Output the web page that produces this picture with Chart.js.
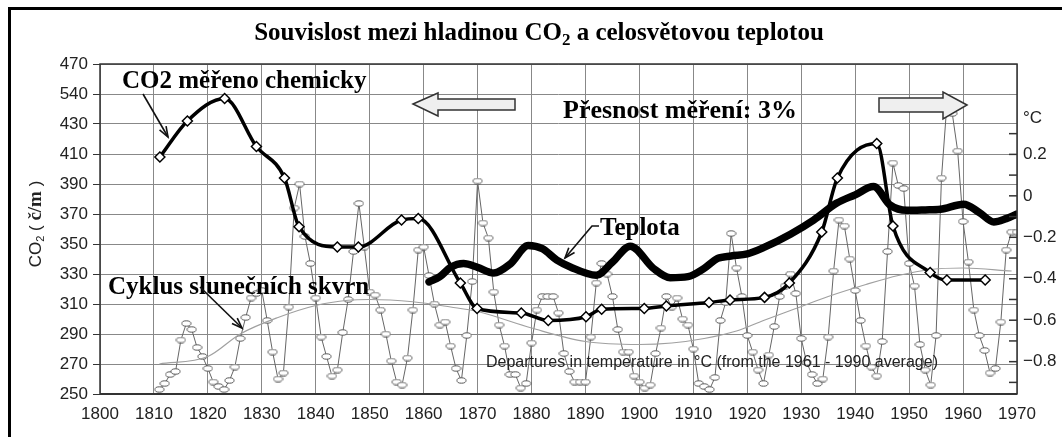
<!DOCTYPE html>
<html>
<head>
<meta charset="utf-8">
<script src="https://cdn.jsdelivr.net/npm/chart.js@4.4.0/dist/chart.umd.min.js"></script>
<style>
  html, body { margin: 0; padding: 0; background: #fff; }
  #wrap { position: relative; width: 1062px; height: 437px; }
</style>
</head>
<body>
<div id="wrap"><canvas id="myChart"></canvas></div>
<script>
// ---- data ----
const yearLabels = ['1800','1810','1820','1830','1840','1850','1860','1870','1880','1890',
                    '1900','1910','1920','1930','1940','1950','1960','1970'];
const co2TickLabels = ['250','270','290','310','330','350','370','390','410','430','540','470'];
const tempTickValues = [-0.9, -0.8, -0.7, -0.6, -0.5, -0.4, -0.3, -0.2, -0.1, 0, 0.1, 0.2, 0.3];
const tempTickLabels = ['', '\u22120.8', '', '\u22120.6', '', '\u22120.4', '', '\u22120.2', '', '0', '', '0.2', ''];

// CO2 measured chemically (left axis units)
const co2Years  = [1811.1, 1816.2, 1823.1, 1829.0, 1834.2, 1836.9, 1844.0, 1847.9, 1855.9, 1859.0,
                   1866.8, 1869.9, 1878.1, 1883.1, 1890.1, 1893.0, 1900.9, 1905.0, 1912.9, 1916.8,
                   1923.2, 1927.8, 1933.8, 1936.7, 1944.0, 1947.0, 1953.9, 1957.0, 1964.1];
const co2Values = [408, 432, 447, 415, 394, 361.5, 348, 348, 366, 367,
                   324, 307, 304, 299, 301.5, 306.5, 307, 308.7, 311, 312.7,
                   314.4, 324, 358, 394, 417, 362, 331, 326, 326];

// temperature departure (right axis, deg C)
const tempYears  = [1861, 1863, 1865, 1867.4, 1870, 1873, 1876, 1879.4, 1882, 1884.7,
                    1887.2, 1892, 1895, 1898.3, 1902.6, 1905.7, 1909, 1912, 1914.5, 1917,
                    1920, 1923, 1928, 1932.3, 1936.6, 1940, 1943.4, 1946.5, 1949.6, 1953,
                    1955.8, 1960.1, 1963, 1965.7, 1968, 1970];
const tempValues = [-0.415, -0.39, -0.345, -0.327, -0.345, -0.372, -0.33, -0.24, -0.255, -0.31,
                    -0.343, -0.383, -0.32, -0.243, -0.35, -0.395, -0.39, -0.35, -0.302, -0.29,
                    -0.28, -0.25, -0.185, -0.117, -0.035, 0.005, 0.045, -0.045, -0.07, -0.068,
                    -0.065, -0.04, -0.08, -0.126, -0.11, -0.088];

// sunspot cycle (yearly, left axis units)
const sunYears = [1811,1812,1813,1814,1815,1816,1817,1818,1819,1820,
                  1821,1822,1823,1824,1825,1826,1827,1828,1829,1830,
                  1831,1832,1833,1834,1835,1836,1837,1838,1839,1840,
                  1841,1842,1843,1844,1845,1846,1847,1848,1849,1850,
                  1851,1852,1853,1854,1855,1856,1857,1858,1859,1860,
                  1861,1862,1863,1864,1865,1866,1867,1868,1869,1870,
                  1871,1872,1873,1874,1875,1876,1877,1878,1879,1880,
                  1881,1882,1883,1884,1885,1886,1887,1888,1889,1890,
                  1891,1892,1893,1894,1895,1896,1897,1898,1899,1900,
                  1901,1902,1903,1904,1905,1906,1907,1908,1909,1910,
                  1911,1912,1913,1914,1915,1916,1917,1918,1919,1920,
                  1921,1922,1923,1924,1925,1926,1927,1928,1929,1930,
                  1931,1932,1933,1934,1935,1936,1937,1938,1939,1940,
                  1941,1942,1943,1944,1945,1946,1947,1948,1949,1950,
                  1951,1952,1953,1954,1955,1956,1957,1958,1959,1960,
                  1961,1962,1963,1964,1965,1966,1967,1968,1969,1970];
const sunValues = [253,257,263,265,286,297,293,281,275,267,
                   258,255,253,259,268,287,301,314,317,319,
                   299,278,260,264,308,374,390,355,337,314,
                   288,275,262,266,291,313,345,377,348,318,
                   316,306,290,272,258,256,274,306,346,348,
                   329,310,296,298,282,267,259,289,325,392,
                   364,354,318,296,282,263,263,254,257,284,
                   306,315,315,315,304,277,265,258,258,258,
                   288,324,337,330,315,293,278,278,262,258,
                   254,256,277,294,315,308,314,300,296,280,
                   257,255,253,261,299,311,357,334,315,289,
                   278,266,257,276,295,315,322,330,317,287,
                   271,263,257,260,288,332,366,362,340,319,
                   299,282,268,262,285,345,404,389,387,337,
                   322,283,266,256,289,394,443,437,412,365,
                   338,306,289,279,264,267,298,346,358,358];

// long term trend of the cycle (thin grey curve)
const trendYears  = [1811, 1820, 1826, 1833, 1840, 1846, 1850, 1858, 1865, 1870, 1880, 1890,
                     1900, 1906, 1912, 1918, 1923, 1929, 1935, 1942, 1948, 1954, 1960, 1969];
const trendValues = [270, 275, 290, 301, 309, 312.5, 313, 311.5, 308, 305, 294, 285,
                     283, 284, 287, 292, 299, 307, 315, 323, 329, 333, 334, 332];

function pts(xs, ys) { return xs.map((x, i) => ({ x: x, y: ys[i] })); }

const serif = "'Liberation Serif', 'Times New Roman', serif";
const sans = "'Liberation Sans', Arial, sans-serif";

// little ellipse marker for the sunspot series
const ell = document.createElement('canvas');
ell.width = 11; ell.height = 7;
(function () {
  const c = ell.getContext('2d');
  c.fillStyle = '#fff';
  c.strokeStyle = '#555';
  c.lineWidth = 1;
  c.beginPath();
  c.ellipse(5.5, 3.5, 4.5, 2.7, 0, 0, Math.PI * 2);
  c.fill(); c.stroke();
})();

function rich(ctx, parts, x, y, align) {
  let w = 0;
  parts.forEach(p => { ctx.font = p.font; w += ctx.measureText(p.t).width; });
  let cx = align === 'center' ? x - w / 2 : x;
  parts.forEach(p => {
    ctx.font = p.font;
    ctx.fillText(p.t, cx, y + (p.dy || 0));
    cx += ctx.measureText(p.t).width;
  });
}

function arrow(ctx, path, head) {
  ctx.beginPath();
  ctx.moveTo(path[0][0], path[0][1]);
  for (let i = 1; i < path.length; i++) ctx.lineTo(path[i][0], path[i][1]);
  ctx.stroke();
  const a = path[path.length - 2], b = path[path.length - 1];
  const ang = Math.atan2(b[1] - a[1], b[0] - a[0]);
  ctx.beginPath();
  ctx.moveTo(b[0] - head * Math.cos(ang - 0.35), b[1] - head * Math.sin(ang - 0.35));
  ctx.lineTo(b[0], b[1]);
  ctx.lineTo(b[0] - head * Math.cos(ang + 0.35), b[1] - head * Math.sin(ang + 0.35));
  ctx.stroke();
}

function hollowArrow(ctx, poly) {
  ctx.beginPath();
  ctx.moveTo(poly[0][0], poly[0][1]);
  for (let i = 1; i < poly.length; i++) ctx.lineTo(poly[i][0], poly[i][1]);
  ctx.closePath();
  ctx.fillStyle = '#efefef';
  ctx.fill();
  ctx.strokeStyle = '#333';
  ctx.lineWidth = 1.5;
  ctx.stroke();
}

const decor = {
  id: 'decor',
  beforeDraw(chart) {
    const ctx = chart.ctx;
    ctx.save();
    ctx.fillStyle = '#fff';
    ctx.fillRect(0, 0, chart.width, chart.height);
    ctx.restore();
  },
  afterDatasetsDraw(chart) {
    const ctx = chart.ctx;
    const ca = chart.chartArea;
    const yT = chart.scales.yT;
    ctx.save();

    // plot frame
    ctx.strokeStyle = '#333';
    ctx.lineWidth = 1.5;
    ctx.strokeRect(ca.left, ca.top, ca.right - ca.left, ca.bottom - ca.top);
    ctx.lineWidth = 2;
    ctx.beginPath(); ctx.moveTo(ca.left, ca.bottom); ctx.lineTo(ca.right, ca.bottom); ctx.stroke();

    // inner ticks of the temperature axis
    ctx.lineWidth = 1.5;
    tempTickValues.forEach(v => {
      const y = yT.getPixelForValue(v);
      ctx.beginPath(); ctx.moveTo(ca.right - 8, y); ctx.lineTo(ca.right, y); ctx.stroke();
    });

    // outer frame of the picture
    ctx.fillStyle = '#000';
    ctx.fillRect(8, 7, chart.width - 8, 3);
    ctx.fillRect(8, 7, 3, chart.height - 7);

    // title
    ctx.fillStyle = '#000';
    ctx.textBaseline = 'alphabetic';
    rich(ctx, [
      { t: 'Souvislost mezi hladinou CO', font: 'bold 25px ' + serif },
      { t: '2', font: 'bold 17px ' + serif, dy: 5 },
      { t: ' a celosvětovou teplotou', font: 'bold 25px ' + serif }
    ], 539, 40, 'center');

    // y axis title
    ctx.save();
    ctx.translate(36, 224);
    ctx.rotate(-Math.PI / 2);
    ctx.textBaseline = 'middle';
    ctx.fillStyle = '#222';
    rich(ctx, [
      { t: 'CO', font: '17px ' + sans },
      { t: '2', font: '11px ' + sans, dy: 5 },
      { t: ' ( ', font: '17px ' + sans },
      { t: 'č/m', font: 'bold 19px ' + serif },
      { t: ' )', font: '17px ' + sans }
    ], 0, 0, 'center');
    ctx.restore();

    // labels in the plot
    ctx.fillStyle = '#000';
    ctx.font = 'bold 25px ' + serif;
    ctx.fillText('CO2 měřeno chemicky', 122, 88);
    ctx.fillText('Cyklus slunečních skvrn', 108, 294);
    ctx.fillText('Teplota', 600, 235);
    ctx.font = 'bold 26px ' + serif;
    ctx.fillText('Přesnost měření: 3%', 563, 118);

    ctx.strokeStyle = '#111';
    ctx.lineWidth = 1.6;
    arrow(ctx, [[143, 94], [168, 137]], 11);
    arrow(ctx, [[200, 287], [242, 328]], 11);
    arrow(ctx, [[599, 226], [592, 226], [565, 258]], 11);

    hollowArrow(ctx, [[413, 104], [438, 93], [438, 99], [515, 99], [515, 110], [438, 110], [438, 116]]);
    hollowArrow(ctx, [[967, 105], [943, 92], [943, 98], [879, 98], [879, 112], [943, 112], [943, 119]]);

    ctx.font = '16px ' + sans;
    ctx.fillStyle = '#222';
    ctx.fillText('Departures in temperature in °C (from the 1961 - 1990 average)', 486, 367);

    ctx.font = '17px ' + sans;
    ctx.fillText('°C', 1023, 123);
    ctx.restore();
  }
};

let ctx = document.getElementById('myChart').getContext('2d');

let chart = new Chart(ctx, {
  type: 'line',
  data: {
    datasets: [{
      label: 'CO2 měřeno chemicky',
      data: pts(co2Years, co2Values),
      yAxisID: 'y',
      borderColor: '#000',
      borderWidth: 3.5,
      cubicInterpolationMode: 'monotone',
      pointStyle: 'rectRot',
      pointRadius: 5,
      pointBackgroundColor: '#fff',
      pointBorderColor: '#000',
      pointBorderWidth: 1.5
    }, {
      label: 'Teplota',
      data: pts(tempYears, tempValues),
      yAxisID: 'yT',
      borderColor: '#000',
      borderWidth: 7.5,
      borderCapStyle: 'round',
      cubicInterpolationMode: 'monotone',
      pointRadius: 0
    }, {
      label: 'trend',
      data: pts(trendYears, trendValues),
      yAxisID: 'y',
      borderColor: '#a0a0a0',
      borderWidth: 1.2,
      cubicInterpolationMode: 'monotone',
      pointRadius: 0
    }, {
      label: 'Cyklus slunečních skvrn',
      data: pts(sunYears, sunValues),
      yAxisID: 'y',
      borderColor: '#666',
      borderWidth: 1,
      tension: 0,
      pointStyle: ell,
      pointRadius: 4
    }]
  },
  options: {
    responsive: true,
    maintainAspectRatio: false,
    animation: false,
    events: [],
    layout: { padding: { top: 64, left: 0, right: 0, bottom: 0 } },
    plugins: { legend: { display: false }, tooltip: { enabled: false }, title: { display: false } },
    scales: {
      x: {
        type: 'linear',
        min: 1800, max: 1970,
        afterFit: s => { s.height = 43; },
        ticks: {
          stepSize: 10, autoSkip: false, maxRotation: 0, padding: 10,
          color: '#222', font: { family: sans, size: 17 },
          callback: (v, i) => yearLabels[i]
        },
        grid: { color: '#888', lineWidth: 1, drawTicks: false },
        border: { display: false }
      },
      y: {
        position: 'left',
        min: 250, max: 470,
        afterFit: s => { s.width = 100; },
        ticks: {
          stepSize: 20, autoSkip: false, padding: 5,
          color: '#222', font: { family: sans, size: 17 },
          callback: (v, i) => co2TickLabels[i]
        },
        grid: { color: '#888', lineWidth: 1, tickLength: 7, tickColor: '#333' },
        border: { display: false }
      },
      yT: {
        position: 'right',
        min: -0.956, max: 0.636,
        afterFit: s => { s.width = 45; },
        afterBuildTicks: s => { s.ticks = tempTickValues.map(v => ({ value: v })); },
        ticks: {
          autoSkip: false, padding: 6,
          color: '#222', font: { family: sans, size: 17 },
          callback: (v, i) => tempTickLabels[i]
        },
        grid: { display: false, drawTicks: false, drawOnChartArea: false },
        border: { display: false }
      }
    }
  },
  plugins: [decor]
});
</script>
</body>
</html>
